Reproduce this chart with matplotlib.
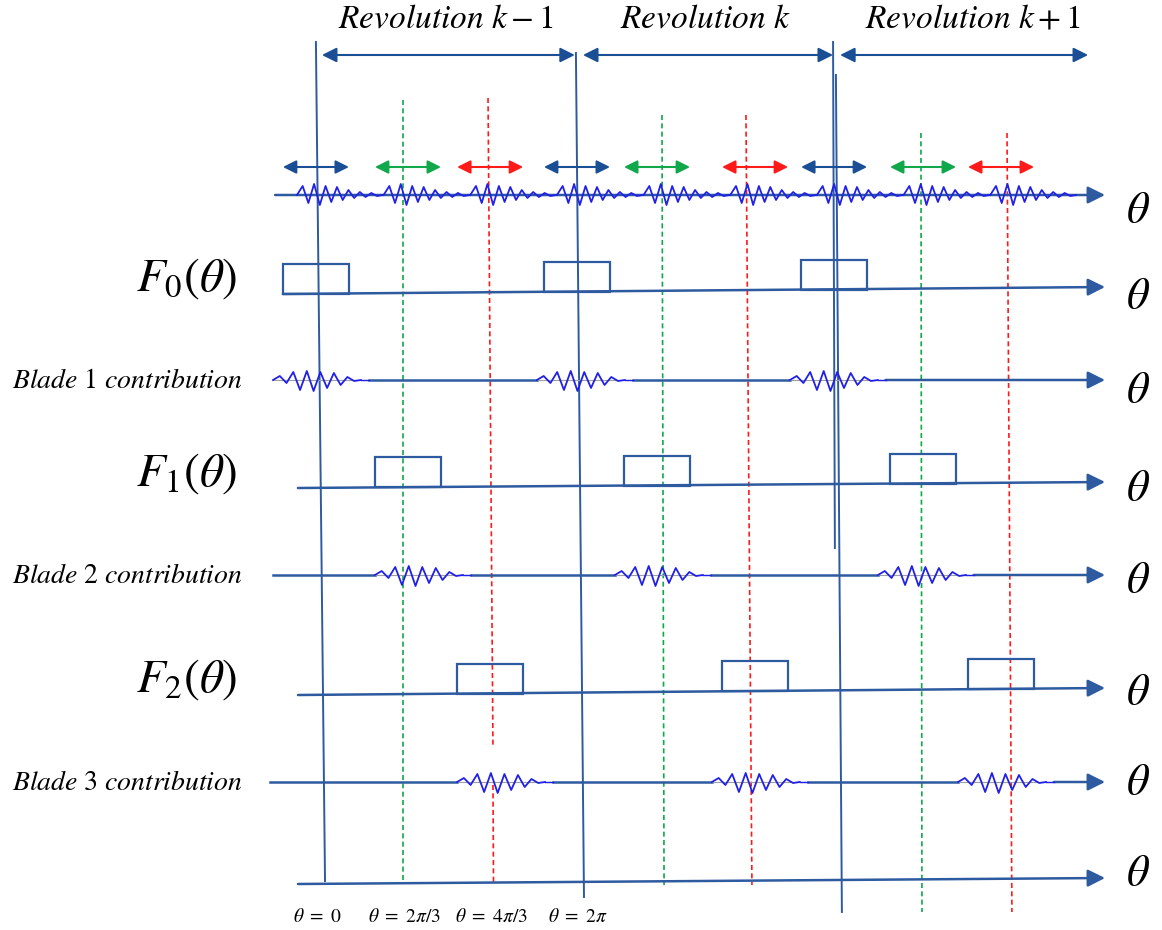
import numpy as np
import matplotlib.pyplot as plt

plt.rcParams['mathtext.fontset'] = 'stix'

# x is the shaft angle in revolutions (1.0 = 2*pi), y is the row height in pixels
blade_angle = [0.0, 1/3, 2/3]
blade_col = ['#1a4f96', '#10a84a', '#ff1a1a']
rev_names = [r'$Revolution\ k-1$', r'$Revolution\ k$', r'$Revolution\ k+1$']
rev_arrows = [(0.015, 0.988), (1.019, 1.981), (2.008, 2.962)]
rev_label_t = [0.49, 1.49, 2.52]

# revolution boundaries (hand drawn, a little tilted): t_top, y_top, t_bot, y_bot
rev_lines = [(-0.008, 42, 0.027, 881), (0.992, 53, 1.023, 897),
             (1.981, 42, 1.988, 548), (1.992, 75, 2.015, 912)]
green_lines = [(0.327, 100, 0.327, 882), (1.323, 115, 1.331, 885), (2.319, 133, 2.323, 912)]
red_lines = [(0.654, 98, 0.673, 748), (0.673, 785, 0.675, 882),
             (1.646, 115, 1.669, 885), (2.650, 133, 2.669, 912)]

# window start of each blade in each revolution (rectangles, width 0.254 rev)
win_start = [[-0.135, 0.869, 1.858],
             [0.219, 1.177, 2.200],
             [0.535, 1.554, 2.500]]
win_w = 0.254
win_h = 30

# blade contribution packets start
pack_start = [[-0.173, 0.842, 1.815],
              [0.219, 1.142, 2.154],
              [0.535, 1.515, 2.462]]
# extrema of one blade packet (px, up is positive)
pack_amp = [0, 4, -3, 8, -10, 9, -11, 8, -8, 7, -5, 3, -1, 0]
pack_half = 0.026
pack_tail = 0.03

# measured (sum) signal packets, one per blade passage
sig_amp = [0, 9, -8, 11, -10, 9, -7, 8, -5, 5, -3, 3, -2, 2, -1, 0]
sig_half = 0.022
sig_shift = -0.081

# rows: name, y at left, y at right, line start
rows = {'sig': (195, 195, -0.165), 'F0': (294, 287, -0.135), 'b1': (380, 380, -0.173),
        'F1': (488, 482, -0.077), 'b2': (575, 575, -0.173), 'F2': (695, 688, -0.077),
        'b3': (782, 782, -0.185), 'base': (884, 878, -0.077)}
row_end = 3.027
left_labels = [('F0', r'$F_0(\theta)$', 'big'), ('b1', r'$Blade\ 1\ contribution$', 'small'),
               ('F1', r'$F_1(\theta)$', 'big'), ('b2', r'$Blade\ 2\ contribution$', 'small'),
               ('F2', r'$F_2(\theta)$', 'big'), ('b3', r'$Blade\ 3\ contribution$', 'small')]
theta_ticks = [0.0, 1/3, 2/3, 1.0]
theta_names = [r'$\theta\ =\ 0$', r'$\theta\ =\ 2\pi/3$', r'$\theta\ =\ 4\pi/3$', r'$\theta\ =\ 2\pi$']

axis_col = '#2e5aa0'
wave_col = '#2020e6'

fig = plt.figure(figsize=(11.62, 9.30), dpi=100)
ax = fig.add_axes([0, 0, 1, 1])
ax.set_xlim(-318 / 260, 844 / 260)
ax.set_ylim(930, 0)
ax.axis('off')


def row_y(name, t):
    y0, y1, t0 = rows[name]
    return y0 + (y1 - y0) * (t - t0) / (row_end - t0)


def arrow(t0, t1, y0, y1, col, style='-|>', ms=22, lw=1.6):
    ax.annotate('', xy=(t1, y1), xytext=(t0, y0),
                arrowprops=dict(arrowstyle=style, color=col, lw=lw,
                                mutation_scale=ms, shrinkA=0, shrinkB=0))


def packet(start, amp, half, y, lw=1.3):
    xs = [start + i * half for i in range(len(amp))]
    ys = [y - a for a in amp]
    ax.plot(xs, ys, color=wave_col, lw=lw, zorder=4, solid_joinstyle='round')
    return xs[-1]


# vertical lines
for t0, y0, t1, y1 in rev_lines:
    ax.plot([t0, t1], [y0, y1], color=axis_col, lw=1.4, zorder=2)
for t0, y0, t1, y1 in green_lines:
    ax.plot([t0, t1], [y0, y1], color='#10a84a', lw=1.2, ls=(0, (3, 2)), zorder=2)
for t0, y0, t1, y1 in red_lines:
    ax.plot([t0, t1], [y0, y1], color='#ff1a1a', lw=1.2, ls=(0, (3, 2)), zorder=2)

# revolution arrows and titles
for (t0, t1), name, tl in zip(rev_arrows, rev_names, rev_label_t):
    arrow(t0, t1, 55, 55, '#1a4f96', '<|-|>', 22, 1.5)
    ax.text(tl, 18, name, fontsize=24, ha='center', va='center')

# small blade window arrows above the signal
for b in range(3):
    for r in range(3):
        s = win_start[b][r]
        arrow(s, s + win_w, 167, 167, blade_col[b], '<|-|>', 20, 1.5)

# horizontal axes
for name, (y0, y1, t0) in rows.items():
    if name in ('b1', 'b2', 'b3'):
        b = int(name[1]) - 1
        cuts = sorted(pack_start[b])
        seg0 = t0
        for s in cuts:
            e = s + pack_half * (len(pack_amp) - 1)
            ax.plot([seg0, s], [y0, y0], color=axis_col, lw=1.8, zorder=3)
            ax.plot([s, e + pack_tail], [y0, y0], color='#a0a0a0', lw=0.8, zorder=3)
            seg0 = e + pack_tail
        arrow(seg0, row_end, y0, y1, axis_col, '-|>', 26, 1.8)
    else:
        arrow(t0, row_end, y0, y1, axis_col, '-|>', 26, 1.8)

# rectangles F0, F1, F2
for b, name in enumerate(['F0', 'F1', 'F2']):
    for s in win_start[b]:
        yb = row_y(name, s)
        ax.add_patch(plt.Rectangle((s, yb - win_h), win_w, win_h, fill=False,
                                   ec=axis_col, lw=1.6, zorder=4))

# blade contributions
for b, name in enumerate(['b1', 'b2', 'b3']):
    for s in pack_start[b]:
        e = packet(s, pack_amp, pack_half, rows[name][0])
        ax.plot([e, e + pack_tail], [rows[name][0]] * 2, color=wave_col, lw=1.0, zorder=4)

# measured signal
for r in range(3):
    for b in range(3):
        packet(r + blade_angle[b] + sig_shift, sig_amp, sig_half, rows['sig'][0])

# labels
for name, txt, kind in left_labels:
    y = (rows[name][0] + rows[name][1]) / 2
    if kind == 'big':
        ax.text(-0.505, y - 12, txt, fontsize=34, ha='center', va='center')
    else:
        ax.text(-0.735, y, txt, fontsize=20, ha='center', va='center')

theta_y = {'sig': 210, 'F0': 296, 'b1': 390, 'F1': 488, 'b2': 580, 'F2': 692, 'b3': 782, 'base': 873}
for name, y in theta_y.items():
    ax.text(3.155, y, r'$\theta$', fontsize=32, ha='center', va='center')

for t, txt in zip(theta_ticks, theta_names):
    ax.text(t + 0.0, 916, txt, fontsize=14, ha='center', va='center')

fig.savefig('out.png', dpi=100)
